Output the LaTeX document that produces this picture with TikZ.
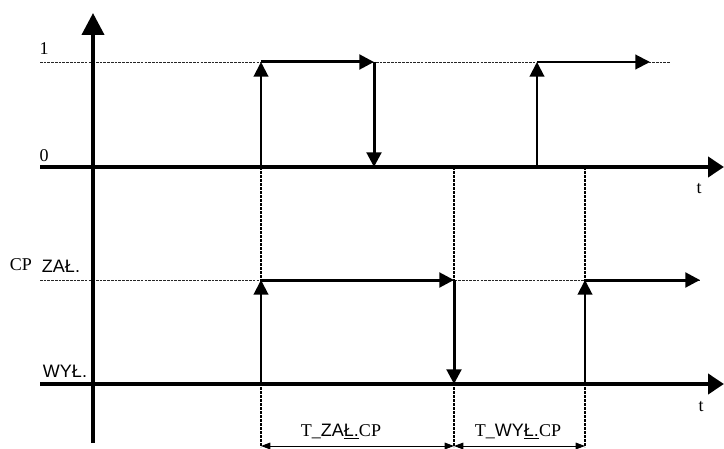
\documentclass[tikz,border=0pt]{standalone}
\usepackage{fontspec}
\setmainfont{Liberation Serif}
\newfontfamily\arialfont{Liberation Sans}
\usepackage{tikz}
\usetikzlibrary{arrows.meta, positioning}

\begin{document}
\begin{tikzpicture}[
    x=0.75pt, y=-0.75pt,
    yaxis/.style={line width=3pt, -{Triangle[length=16.5pt, width=16.5pt]}},
    taxis/.style={line width=3pt, -{Triangle[length=12pt, width=15pt]}},
    edge/.style={line width=2.25pt, -{Triangle[length=11pt, width=11pt]}},
    rise/.style={edge, line width=1.5pt},
    level/.style={line width=0.7pt, dash pattern=on 2pt off 0.8pt, black!85},
    marker/.style={line width=1.8pt, dash pattern=on 2pt off 1pt},
    span/.style={line width=0.75pt, {Triangle[length=7pt, width=5pt]}-{Triangle[length=7pt, width=5pt]}},
    lbl/.style={inner sep=0pt, font=\fontsize{13.5}{15}\selectfont}
  ]
    \useasboundingbox (0,0) rectangle (724,449);

    % axes and levels
    \coordinate (ybot) at (93,443);
    \coordinate (ytop) at (93,13);
    \coordinate (zeroL) at (40,167);
    \coordinate (zeroR) at (724,167);
    \coordinate (oneL) at (40,62);
    \coordinate (oneR) at (670,62);
    \coordinate (onL) at (40,280);
    \coordinate (onR) at (700,280);
    \coordinate (offL) at (40,384);
    \coordinate (offR) at (724,384);

    \draw[level] (oneL) -- (oneR);
    \draw[level] (onL) -- (onR);

    % edges of the input signal
    \coordinate (a0) at (261,167);
    \coordinate (a1) at (261,62);
    \coordinate (b1) at (374,62);
    \coordinate (b0) at (374,167);
    \coordinate (c0) at (537,167);
    \coordinate (c1) at (537,62);
    \coordinate (d1) at (650,62);

    % edges of CP
    \coordinate (e0) at (261,384);
    \coordinate (e1) at (261,280);
    \coordinate (f1) at (454,280);
    \coordinate (f0) at (454,384);
    \coordinate (g0) at (585,384);
    \coordinate (g1) at (585,280);
    \coordinate (h1) at (700,280);

    % time markers
    \coordinate (m1) at (261,447);
    \coordinate (m2) at (454,447);
    \coordinate (m3) at (585,447);
    \coordinate (m2t) at (454,167);
    \coordinate (m3t) at (585,167);
    \coordinate (s1) at (261,446);
    \coordinate (s2) at (454,446);
    \coordinate (s3) at (585,446);

    \draw[marker] (a0) -- (m1);
    \draw[marker] (m2t) -- (m2);
    \draw[marker] (m3t) -- (m3);

    \draw[yaxis] (ybot) -- (ytop);
    \draw[taxis] (zeroL) -- (zeroR);
    \draw[taxis] (offL) -- (offR);

    \draw[rise] (a0) -- (a1);
    \draw[edge] (a1) -- (b1);
    \draw[edge] (b1) -- (b0);
    \draw[rise] (c0) -- (c1);
    \draw[rise] (c1) -- (d1);

    \draw[rise] (e0) -- (e1);
    \draw[edge] (e1) -- (f1);
    \draw[edge] (f1) -- (f0);
    \draw[rise] (g0) -- (g1);
    \draw[edge] (g1) -- (h1);

    \draw[span] (s1) -- (s2);
    \draw[span] (s2) -- (s3);

    % labels
    \node[lbl] (one) at (44,49) {1};
    \node[lbl] (zero) at (44,156) {0};
    \node[lbl] (t1) at (699,189) {t};
    \node[lbl] (t2) at (701,407) {t};
    \node[lbl] (cp) at (21,265) {CP};
    \node[lbl, font=\fontsize{13.5}{15}\arialfont] (on) at (61,266) {ZAŁ.};
    \node[lbl, font=\fontsize{13.5}{15}\arialfont] (off) at (65,371) {WYŁ.};
    \node[lbl] (ton) at (341,432) {T\_{\arialfont ZA\underline{Ł.}}CP};
    \node[lbl] (toff) at (518,432) {T\_{\arialfont WY\underline{Ł.}}CP};
  \end{tikzpicture}
\end{document}
